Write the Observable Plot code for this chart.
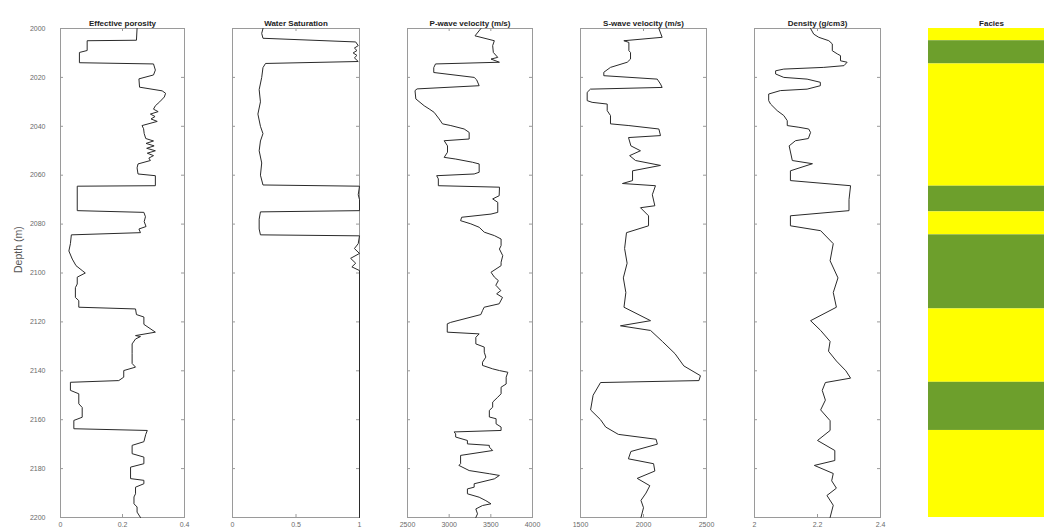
<!DOCTYPE html>
<html>
<head>
<meta charset="utf-8">
<script src="https://cdn.jsdelivr.net/npm/d3@7"></script>
<script src="https://cdn.jsdelivr.net/npm/@observablehq/plot@0.6"></script>
<style>
  body { margin: 0; background: #fff; }
  #chart { position: relative; width: 1044px; height: 532px; overflow: hidden; background: #fff; }
  #chart svg { position: absolute; top: 0; }
</style>
</head>
<body>
<div id="chart"></div>
<script>
// ---- Well log curves (depth in m) ----
const depthTicks = [2000, 2020, 2040, 2060, 2080, 2100, 2120, 2140, 2160, 2180, 2200];

const porosityDepth = [2000, 2004.8, 2005, 2009, 2009.8, 2014, 2014.5, 2017, 2019, 2020.6, 2024, 2025.5, 2026.5, 2028, 2030, 2031.6, 2033, 2034, 2035, 2036, 2037, 2038, 2039.7, 2041, 2043, 2045, 2046, 2047, 2048, 2049, 2050, 2051, 2052, 2053, 2054, 2055.4, 2057, 2059.5, 2060.2, 2064.3, 2064.5, 2074.5, 2075.2, 2077, 2079, 2081, 2082, 2083.5, 2084.4, 2088, 2091, 2094.3, 2097, 2099, 2100, 2101.7, 2104.5, 2106, 2110, 2111.3, 2114, 2114.7, 2117, 2118, 2121, 2124.2, 2125.6, 2126, 2127, 2129, 2133, 2137, 2138.5, 2139.9, 2142.6, 2144, 2144.7, 2148, 2149.4, 2153.5, 2155, 2159, 2160.3, 2163.7, 2164.4, 2166, 2169, 2170.5, 2173.9, 2175.3, 2178, 2179.4, 2184.1, 2184.8, 2186.2, 2187.6, 2190.3, 2191.6, 2194.4, 2195.7, 2197.8, 2200];
const porosity = [0.247, 0.245, 0.086, 0.086, 0.061, 0.061, 0.300, 0.306, 0.300, 0.253, 0.255, 0.328, 0.339, 0.335, 0.320, 0.306, 0.300, 0.315, 0.290, 0.305, 0.292, 0.312, 0.263, 0.268, 0.270, 0.275, 0.300, 0.276, 0.302, 0.278, 0.306, 0.280, 0.300, 0.285, 0.290, 0.250, 0.247, 0.250, 0.306, 0.306, 0.054, 0.054, 0.269, 0.274, 0.270, 0.276, 0.253, 0.258, 0.035, 0.032, 0.027, 0.038, 0.050, 0.070, 0.080, 0.054, 0.054, 0.048, 0.048, 0.059, 0.059, 0.242, 0.245, 0.269, 0.269, 0.306, 0.242, 0.258, 0.242, 0.231, 0.231, 0.231, 0.242, 0.204, 0.204, 0.188, 0.032, 0.032, 0.059, 0.059, 0.070, 0.070, 0.043, 0.043, 0.280, 0.275, 0.269, 0.231, 0.231, 0.269, 0.269, 0.226, 0.226, 0.269, 0.269, 0.242, 0.242, 0.237, 0.237, 0.247, 0.247, 0.258];

const swDepth = [2000, 2002, 2004, 2005.5, 2007, 2008, 2009, 2010, 2011, 2012, 2013.5, 2014.3, 2016, 2020, 2025, 2030, 2035, 2040, 2043, 2046, 2050, 2055, 2060, 2064, 2064.5, 2068, 2070, 2074.5, 2075, 2078, 2082, 2084.4, 2084.8, 2088, 2090, 2092, 2094, 2096, 2097.5, 2099, 2200];
const sw = [0.24, 0.23, 0.24, 0.97, 0.99, 0.96, 0.98, 0.95, 0.98, 0.96, 0.99, 0.26, 0.24, 0.23, 0.21, 0.22, 0.20, 0.22, 0.24, 0.22, 0.21, 0.23, 0.22, 0.24, 1, 0.99, 1, 1, 0.22, 0.21, 0.21, 0.22, 1, 0.99, 0.96, 1, 0.93, 0.97, 0.94, 1, 1];

const vpDepth = [2000, 2003, 2005, 2007, 2009.8, 2011.8, 2012.5, 2013.8, 2014.5, 2016, 2018, 2020, 2021, 2023.4, 2024.7, 2025.4, 2028.8, 2031.6, 2032.9, 2034.3, 2037, 2039, 2039.7, 2041.1, 2042.5, 2045.2, 2045.9, 2048, 2050.6, 2052.7, 2053.4, 2054.7, 2055.4, 2058.8, 2059.5, 2060.2, 2061.5, 2064.3, 2064.9, 2068.4, 2069.7, 2071.1, 2075.2, 2075.9, 2077.2, 2078.6, 2079.9, 2081.3, 2083.3, 2084.7, 2086.1, 2088.8, 2090.2, 2092.9, 2095.6, 2097, 2099.7, 2101.7, 2103.1, 2105, 2107.2, 2108.5, 2110, 2112.6, 2114, 2115.4, 2117, 2120.2, 2120.8, 2124.2, 2124.9, 2126.3, 2129, 2130.3, 2132.4, 2134.4, 2136.5, 2137.8, 2139.2, 2139.9, 2140.6, 2142.6, 2145.4, 2146.7, 2149.4, 2150.8, 2152.8, 2154.9, 2156.2, 2158.9, 2159.6, 2161.7, 2163, 2164.4, 2165, 2165.8, 2167.1, 2168.5, 2169.9, 2170.5, 2171.2, 2172.6, 2174.6, 2178, 2178.7, 2180.8, 2182.1, 2182.8, 2184.2, 2186.2, 2187.6, 2188.3, 2190.3, 2191.7, 2193.1, 2194.4, 2195.1, 2196.5, 2198.5, 2200];
const vp = [3381, 3310, 3542, 3522, 3530, 3583, 3502, 3603, 2836, 2815, 2815, 3300, 3330, 3360, 2615, 2590, 2600, 2700, 2760, 2820, 2880, 2920, 3020, 3180, 3240, 3240, 2940, 2980, 2980, 2940, 3080, 3280, 3360, 3360, 3300, 2850, 2870, 2870, 3604, 3600, 3522, 3583, 3583, 3502, 3150, 3137, 3260, 3360, 3421, 3542, 3623, 3623, 3603, 3643, 3623, 3623, 3502, 3543, 3590, 3560, 3620, 3570, 3640, 3600, 3420, 3400, 3380, 3018, 2977, 2977, 3360, 3320, 3320, 3421, 3421, 3440, 3400, 3400, 3522, 3603, 3704, 3684, 3684, 3623, 3623, 3583, 3522, 3522, 3482, 3482, 3563, 3563, 3623, 3623, 3059, 3078, 3078, 3219, 3219, 3482, 3482, 3522, 3137, 3137, 3117, 3240, 3482, 3603, 3542, 3300, 3300, 3219, 3219, 3360, 3440, 3502, 3400, 3320, 3340, 3320];

const vsDepth = [2000, 2003.6, 2005, 2005.7, 2009.1, 2009.8, 2012.5, 2013.8, 2015.9, 2017.9, 2019.3, 2020.7, 2022.7, 2024.1, 2024.8, 2026.1, 2029.5, 2030.2, 2030.9, 2033.6, 2035.6, 2039, 2039.7, 2041.1, 2043.8, 2044.6, 2048, 2050, 2052, 2054, 2056, 2058.2, 2062.2, 2063.4, 2064.3, 2068, 2072.5, 2073.3, 2076.6, 2080.7, 2083.5, 2090, 2096, 2102, 2108, 2114, 2119.5, 2121.6, 2123.5, 2128, 2133, 2138, 2142, 2144, 2144.8, 2150, 2156, 2160, 2163, 2166, 2168, 2170, 2173, 2176, 2178, 2181, 2184, 2187, 2190, 2193, 2196, 2200];
const vs = [2122, 2148, 1844, 1884, 1884, 1897, 1897, 1871, 1738, 1685, 1685, 2109, 2135, 2148, 1579, 1553, 1553, 1592, 1712, 1712, 1738, 1738, 1884, 2122, 2135, 1881, 1900, 1976, 1890, 1937, 2135, 1913, 1913, 1833, 2095, 2070, 2090, 1976, 2040, 2040, 1865, 1850, 1870, 1840, 1860, 1845, 2056, 1817, 2056, 2150, 2250, 2320, 2452, 2440, 1659, 1600, 1580, 1659, 1700, 1800, 2100, 2110, 1900, 1880, 2080, 2090, 1950, 2050, 2020, 1980, 2000, 1980];

const rhoDepth = [2000, 2002.3, 2003.6, 2005, 2006.3, 2009.1, 2010.4, 2011.1, 2013.2, 2013.8, 2015.2, 2015.9, 2016.6, 2017.3, 2018.6, 2020, 2020.7, 2022, 2023.4, 2024.8, 2025.4, 2026.8, 2029.5, 2030.9, 2033.6, 2035.6, 2037.7, 2039.7, 2040.4, 2041.1, 2042.5, 2045, 2045.9, 2048, 2054, 2055.3, 2058.2, 2062.2, 2064.3, 2070, 2074.5, 2076.6, 2080.7, 2082.7, 2088, 2095, 2102, 2108, 2114, 2119.5, 2123.5, 2128, 2132, 2136, 2140, 2143, 2144.8, 2148, 2152, 2156, 2160.4, 2164.4, 2168.5, 2172.6, 2176.7, 2178.7, 2182, 2185, 2188, 2191, 2195, 2200];
const rho = [2.178, 2.188, 2.204, 2.236, 2.247, 2.247, 2.263, 2.273, 2.273, 2.294, 2.284, 2.220, 2.093, 2.067, 2.067, 2.093, 2.167, 2.209, 2.209, 2.167, 2.082, 2.045, 2.045, 2.051, 2.072, 2.093, 2.104, 2.104, 2.141, 2.172, 2.178, 2.171, 2.130, 2.110, 2.120, 2.184, 2.114, 2.114, 2.305, 2.300, 2.300, 2.114, 2.114, 2.210, 2.250, 2.240, 2.265, 2.250, 2.260, 2.178, 2.210, 2.240, 2.235, 2.260, 2.290, 2.305, 2.225, 2.215, 2.225, 2.210, 2.240, 2.240, 2.200, 2.255, 2.255, 2.190, 2.250, 2.245, 2.260, 2.230, 2.250, 2.240];

// Facies column: interval tops, bases and class
const faciesTop  = [2000, 2005, 2014.5, 2064.5, 2075, 2084.4, 2114.7, 2144.7, 2164.4];
const faciesBase = [2005, 2014.5, 2064.5, 2075, 2084.4, 2114.7, 2144.7, 2164.4, 2200];
const faciesName = ["Sand", "Shale", "Sand", "Shale", "Sand", "Shale", "Sand", "Shale", "Sand"];

// ---- Layout ----
const H = 532, MT = 28, MB = 15;
const frameH = H - MT - MB;
const FONT = "'Liberation Sans', Arial, Helvetica, sans-serif";
const chart = document.getElementById("chart");

function zip(depths, values) {
  return depths.map((d, i) => ({depth: d, value: values[i]}));
}

function track({title, left, frameW, mLeft = 22, mRight = 22, domain, ticks, depths, values, depthAxis = false}) {
  const marks = [
    Plot.frame({stroke: "#9a9a9a", strokeWidth: 1}),
    // inward tick marks on all four sides
    Plot.ruleX(ticks, {x: d => d, insetTop: frameH - 3, stroke: "#9a9a9a"}),
    Plot.ruleX(ticks, {x: d => d, insetBottom: frameH - 3, stroke: "#9a9a9a"}),
    Plot.ruleY(depthTicks, {y: d => d, insetRight: frameW - 3, stroke: "#9a9a9a"}),
    Plot.ruleY(depthTicks, {y: d => d, insetLeft: frameW - 3, stroke: "#9a9a9a"}),
    Plot.axisX(ticks, {anchor: "bottom", tickSize: 0, tickPadding: 5, fontSize: 7, fill: "#6a6a6a", label: null, tickFormat: d => String(d)}),
    Plot.line(zip(depths, values), {x: "value", y: "depth", stroke: "#2a2a2a", strokeWidth: 1}),
    Plot.text([title], {frameAnchor: "top", dy: -8, fontSize: 8, fontWeight: "bold", fill: "#222"})
  ];
  if (depthAxis) {
    marks.push(
      Plot.axisY(depthTicks, {anchor: "left", tickSize: 0, tickPadding: 15, fontSize: 7, fill: "#6a6a6a", label: null, tickFormat: d => String(d)}),
      Plot.text(["Depth (m)"], {frameAnchor: "left", rotate: -90, dx: -42, fontSize: 10.5, fill: "#555"})
    );
  }
  const svg = Plot.plot({
    width: mLeft + frameW + mRight,
    height: H,
    marginTop: MT, marginBottom: MB, marginLeft: mLeft, marginRight: mRight,
    style: {background: "transparent", fontFamily: FONT},
    x: {domain, axis: null},
    y: {domain: [2000, 2200], reverse: true, axis: null},
    marks
  });
  svg.style.left = (left - mLeft) + "px";
  chart.appendChild(svg);
}

track({title: "Effective porosity", left: 60, frameW: 124, mLeft: 60, domain: [0, 0.4], ticks: [0, 0.2, 0.4], depths: porosityDepth, values: porosity, depthAxis: true});
track({title: "Water Saturation", left: 232, frameW: 127, domain: [0, 1], ticks: [0, 0.5, 1], depths: swDepth, values: sw});
track({title: "P-wave velocity (m/s)", left: 407, frameW: 125, domain: [2500, 4000], ticks: [2500, 3000, 3500, 4000], depths: vpDepth, values: vp});
track({title: "S-wave velocity (m/s)", left: 580, frameW: 126, domain: [1500, 2500], ticks: [1500, 2000, 2500], depths: vsDepth, values: vs});
track({title: "Density (g/cm3)", left: 754, frameW: 126, domain: [2, 2.4], ticks: [2, 2.2, 2.4], depths: rhoDepth, values: rho});

// Facies column
{
  const frameW = 126, mLeft = 22, mRight = 22;
  const intervals = faciesTop.map((t, i) => ({top: t, base: faciesBase[i], facies: faciesName[i]}));
  const svg = Plot.plot({
    width: mLeft + frameW + mRight,
    height: H,
    marginTop: MT, marginBottom: MB, marginLeft: mLeft, marginRight: mRight,
    style: {background: "transparent", fontFamily: FONT},
    y: {domain: [2000, 2200], reverse: true, axis: null},
    color: {domain: ["Sand", "Shale"], range: ["#ffff00", "#6d9f2c"]},
    marks: [
      Plot.rect(intervals, {y1: "top", y2: "base", fill: "facies"}),
      Plot.text(["Facies"], {frameAnchor: "top", dy: -8, fontSize: 8, fontWeight: "bold", fill: "#222"})
    ]
  });
  svg.style.left = (928 - mLeft) + "px";
  chart.appendChild(svg);
}
</script>
</body>
</html>
